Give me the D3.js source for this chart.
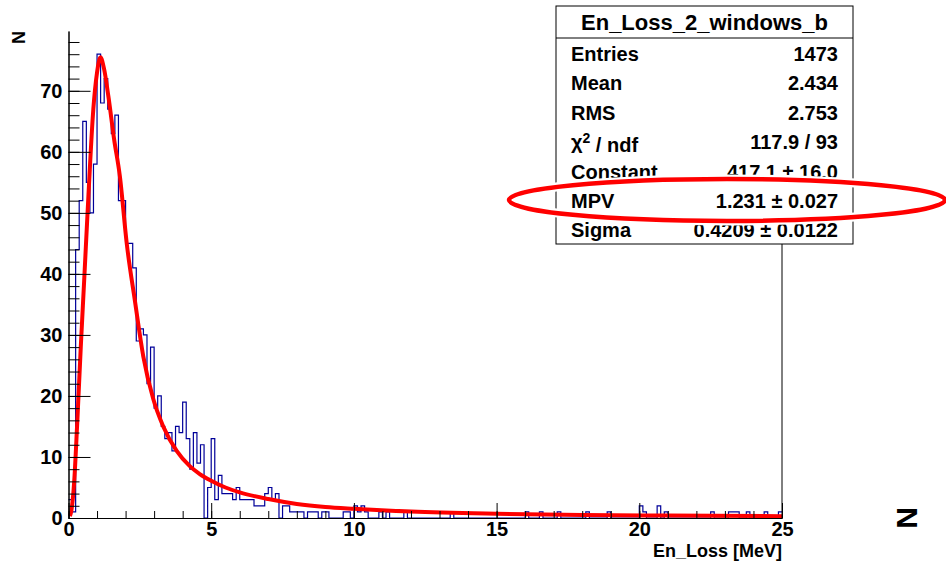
<!DOCTYPE html>
<html>
<head>
<meta charset="utf-8">
<script src="https://cdn.jsdelivr.net/npm/d3@7"></script>
<style>
body { margin: 0; background: #fff; }
svg { display: block; font-family: "Liberation Sans", Arial, Helvetica, sans-serif; }
</style>
</head>
<body>
<svg id="chart" width="946" height="561"></svg>
<script>
// histogram definition: 200 bins from 0 to 25 MeV
var xMin = 0, xMax = 25, nBins = 200
var yMax = 79.8

// bin contents
var counts = [
    3, 1, 44, 52, 65, 55, 50, 58, 76, 68, 72, 67, 63, 66, 52, 52, 45, 45, 41, 29,
    31, 30, 22, 28, 18, 20, 15, 13, 14, 11, 15, 14, 19, 13, 8, 14, 9, 12, 0, 5,
    13, 3, 7, 4, 4, 4, 3, 5, 3, 3, 3, 3, 2, 2, 2, 4, 5, 3, 4, 0,
    2, 2, 1, 1, 1, 1, 0, 1, 1, 1, 0, 1, 1, 0, 0, 0, 0, 1, 1, 0,
    2, 1, 2, 1, 0, 0, 0, 1, 0, 1, 0, 0, 0, 0, 1, 0, 0, 0, 0, 0,
    0, 0, 0, 0, 0, 0, 0, 1, 0, 0, 0, 0, 0, 0, 0, 0, 0, 0, 0, 0,
    0, 0, 0, 0, 0, 0, 0, 0, 1, 0, 0, 0, 1, 0, 0, 0, 0, 1, 0, 0,
    0, 0, 0, 0, 0, 1, 0, 0, 0, 0, 0, 1, 0, 0, 0, 0, 0, 0, 0, 0,
    2, 1, 0, 0, 0, 2, 0, 1, 0, 0, 0, 0, 0, 0, 0, 0, 0, 0, 0, 0,
    1, 0, 0, 0, 0, 1, 1, 1, 0, 0, 1, 0, 0, 0, 0, 1, 0, 0, 0, 1
]

// landau fit curve
var fitX = [0.05, 0.10, 0.2, 0.3, 0.43, 0.55, 0.7, 0.87, 1.0, 1.12, 1.25, 1.4, 1.6, 1.8, 2.04, 2.33, 2.62, 2.97, 3.32, 3.79, 4.25, 4.6, 5.0, 5.5, 6, 7, 8, 9, 10, 12, 15, 18, 21, 25]
var fitY = [0.3, 1.2, 6, 15, 28, 39, 53, 67, 73, 75.5, 73.5, 69, 62, 56, 45, 35.5, 26.5, 19.5, 15, 11, 8.5, 7.2, 6.1, 5, 4.2, 3.1, 2.3, 1.8, 1.5, 1.05, 0.7, 0.5, 0.4, 0.3]

// tick values
var yMajorTicks = [0, 10, 20, 30, 40, 50, 60, 70]
var xMajorTicks = [0, 5, 10, 15, 20, 25]

// stats box
var statsTitle = "En_Loss_2_windows_b"
var statLabels = ["Entries", "Mean", "RMS", "chi2", "Constant", "MPV", "Sigma"]
var statValues = ["1473", "2.434", "2.753", "117.9 / 93", "417.1 \u00b1 16.0", "1.231 \u00b1 0.027", "0.4209 \u00b1 0.0122"]

var svg = d3.select('#chart')

var margin = { top: 31, right: 164, bottom: 43, left: 68.5 },
    width = 946 - margin.left - margin.right,
    height = 561 - margin.top - margin.bottom;

var x = d3.scaleLinear().domain([xMin, xMax]).range([0, width]);
var y = d3.scaleLinear().domain([0, yMax]).range([height, 0]);

var g = svg.append("g")
    .attr("transform", "translate(" + margin.left + "," + margin.top + ")");

// histogram outline
var binWidth = (xMax - xMin) / nBins
var histPoints = counts.map(function(c, i) { return [xMin + i * binWidth, c]; })
histPoints.push([xMax, counts[counts.length - 1]])

var histLine = d3.line()
    .x(function(d) { return x(d[0]); })
    .y(function(d) { return y(d[1]); })
    .curve(d3.curveStepAfter);

g.append("path")
    .datum(histPoints)
    .attr("fill", "none")
    .attr("stroke", "#000099")
    .attr("stroke-width", 1.2)
    .attr("d", histLine);

// fit curve
var fitLine = d3.line()
    .x(function(d, i) { return x(fitX[i]); })
    .y(function(d) { return y(d); })
    .curve(d3.curveMonotoneX);

g.append("path")
    .datum(fitY)
    .attr("fill", "none")
    .attr("stroke", "#ff0000")
    .attr("stroke-width", 4)
    .attr("stroke-linejoin", "round")
    .attr("d", fitLine);

// y axis, ticks pointing inwards
g.append("g")
    .attr("class", "axis")
    .call(d3.axisLeft(y).tickValues(d3.range(0, yMax, 2)).tickSize(-11).tickSizeOuter(0).tickFormat(""));

g.append("g")
    .attr("class", "axis")
    .call(d3.axisLeft(y).tickValues(yMajorTicks).tickSize(-22).tickSizeOuter(0).tickPadding(6));

// x axis
g.append("g")
    .attr("class", "axis")
    .attr("transform", "translate(0," + height + ")")
    .call(d3.axisBottom(x).tickValues(d3.range(0, 26, 1)).tickSize(-7).tickSizeOuter(0).tickFormat(""));

g.append("g")
    .attr("class", "axis")
    .attr("transform", "translate(0," + height + ")")
    .call(d3.axisBottom(x).tickValues(xMajorTicks).tickSize(-15).tickSizeOuter(0).tickPadding(4));

g.selectAll(".axis text")
    .style("font-size", "20px")
    .style("font-weight", "bold")
    .style("font-family", '"Liberation Sans", Arial, sans-serif')
    .attr("fill", "#000");

g.selectAll(".axis path, .axis line").attr("stroke", "#000");

// right side of the frame
g.append("line")
    .attr("x1", width).attr("x2", width)
    .attr("y1", 0).attr("y2", height)
    .attr("stroke", "#000");

// axis titles
g.append("text")
    .attr("x", width)
    .attr("y", height + 39)
    .attr("text-anchor", "end")
    .style("font-size", "18px")
    .style("font-weight", "bold")
    .text("En_Loss [MeV]");

svg.append("text")
    .attr("transform", "translate(25,31) rotate(-90)")
    .attr("text-anchor", "end")
    .style("font-size", "18px")
    .style("font-weight", "bold")
    .text("N");

// stats box
var box = svg.append("g").attr("transform", "translate(556,6)")

box.append("rect")
    .attr("width", 297)
    .attr("height", 238)
    .attr("fill", "#fff")
    .attr("stroke", "#000");

box.append("line")
    .attr("x1", 0).attr("x2", 297)
    .attr("y1", 32).attr("y2", 32)
    .attr("stroke", "#000");

box.append("text")
    .attr("x", 148.5)
    .attr("y", 16)
    .attr("dy", "0.35em")
    .attr("text-anchor", "middle")
    .style("font-size", "22px")
    .style("font-weight", "bold")
    .text(statsTitle);

statLabels.forEach(function(label, i) {
    var yy = 48 + i * 29.4
    var t = box.append("text")
        .attr("x", 15)
        .attr("y", yy)
        .attr("dy", "0.35em")
        .style("font-size", "20px")
        .style("font-weight", "bold");
    if (label == "chi2") {
        t.append("tspan").text("\u03c7");
        t.append("tspan").attr("dy", "-0.45em").style("font-size", "14px").text("2");
        t.append("tspan").attr("dy", "0.45em").text(" / ndf");
    } else {
        t.text(label);
    }
    box.append("text")
        .attr("x", 282)
        .attr("y", yy)
        .attr("dy", "0.35em")
        .attr("text-anchor", "end")
        .style("font-size", "20px")
        .style("font-weight", "bold")
        .text(statValues[i]);
})

// hand drawn ellipse around the MPV row
svg.append("ellipse")
    .attr("cx", 727).attr("cy", 200)
    .attr("rx", 218).attr("ry", 21)
    .attr("fill", "none")
    .attr("stroke", "#fff")
    .attr("stroke-width", 9);

svg.append("ellipse")
    .attr("cx", 727).attr("cy", 200)
    .attr("rx", 218).attr("ry", 21)
    .attr("fill", "none")
    .attr("stroke", "#ff0000")
    .attr("stroke-width", 4.5);

// y title of the neighbouring pad, cut at the edge
svg.append("text")
    .attr("transform", "translate(917,518) rotate(-90)")
    .attr("text-anchor", "middle")
    .style("font-size", "30px")
    .style("font-weight", "bold")
    .text("N");
</script>
</body>
</html>
